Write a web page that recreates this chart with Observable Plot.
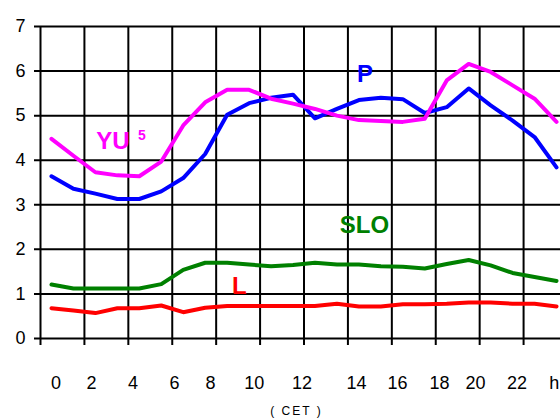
<!DOCTYPE html>
<html><head><meta charset="utf-8">
<script src="https://cdn.jsdelivr.net/npm/d3@7"></script>
<script src="https://cdn.jsdelivr.net/npm/@observablehq/plot@0.6"></script>
<style>
body{margin:0;overflow:hidden;background:#fff}
.cet text{letter-spacing:2px}
</style>
</head><body><div id="chart"></div>
<script>
const hours = [0,1,2,3,4,5,6,7,8,9,10,11,12,13,14,15,16,17,18,19,20,21,22,23];
const P   = [3.64,3.36,3.25,3.13,3.13,3.30,3.60,4.14,5.02,5.28,5.40,5.47,4.94,5.15,5.35,5.40,5.37,5.06,5.19,5.61,5.23,4.89,4.52,3.84];
const YU  = [4.48,4.10,3.73,3.66,3.64,3.97,4.78,5.30,5.58,5.58,5.38,5.27,5.15,5.00,4.90,4.88,4.86,4.93,5.79,6.16,5.98,5.68,5.38,4.86];
const SLO = [1.21,1.12,1.12,1.12,1.12,1.22,1.54,1.70,1.70,1.66,1.62,1.65,1.70,1.66,1.66,1.62,1.61,1.57,1.67,1.76,1.64,1.47,1.38,1.29];
const L   = [0.68,0.63,0.57,0.68,0.68,0.74,0.59,0.69,0.73,0.73,0.73,0.73,0.73,0.78,0.72,0.72,0.77,0.77,0.78,0.81,0.81,0.78,0.78,0.72];
const seriesNames = ["P","YU","SLO","L"];
const seriesColors = ["#0000ff","#ff00ff","#008000","#ff0000"];
const yTicks = [0,1,2,3,4,5,6,7];
const gridHours = [-0.5,1.5,3.5,5.5,7.5,9.5,11.5,13.5,15.5,17.5,19.5,21.5,23.5];
const xTickLabels = ["0","2","4","6","8","10","12","14","16","18","20","22","h"];
const xTickHours = [0.21,1.82,3.71,5.60,7.24,9.24,11.41,13.89,15.76,17.67,19.31,21.20,22.9];
const labels = [
  {text:"YU", x:2.80, y:4.42, color:"#ff00ff", size:24},
  {text:"5",  x:4.12, y:4.55, color:"#ff00ff", size:14},
  {text:"P",  x:14.28, y:5.92, color:"#0000ff", size:24},
  {text:"SLO",x:14.25, y:2.55, color:"#008000", size:24},
  {text:"L",  x:8.56, y:1.16, color:"#ff0000", size:24}
];

const all = {P, YU, SLO, L};
const data = seriesNames.flatMap(s => hours.map((h,i) => ({hour:h, series:s, value:all[s][i]})));
const labelMap = new Map(xTickHours.map((h,i)=>[h, xTickLabels[i]]));

const chart = Plot.plot({
  width:560, height:420,
  marginLeft:40, marginRight:0, marginTop:26, marginBottom:82,
  style:{fontFamily:"'Liberation Sans', Arial, sans-serif", background:"white", color:"black"},
  x:{domain:[-0.5,23.5], range:[40,567]},
  y:{domain:[0,7]},
  color:{domain:seriesNames, range:seriesColors},
  marks:[
    Plot.ruleY(yTicks,{stroke:"black",strokeWidth:2,insetLeft:-6}),
    Plot.ruleX(gridHours,{stroke:"black",strokeWidth:2,insetBottom:-7}),
    Plot.axisY(yTicks,{tickSize:0,tickPadding:15,fontSize:18,label:null}),
    Plot.axisX(xTickHours,{tickSize:0,tickPadding:38,fontSize:18,label:null,tickFormat:d=>labelMap.get(d)}),
    Plot.lineY(data,{x:"hour",y:"value",z:"series",stroke:"series",strokeWidth:4,strokeLinejoin:"round"}),
    Plot.text(labels,{x:"x",y:"y",text:"text",fill:"color",fontSize:"size",fontWeight:"bold"}),
    Plot.text(["( CET )"],{frameAnchor:"bottom",dy:76,dx:-4,fontSize:12,className:"cet"})
  ]
});
document.getElementById("chart").append(chart);
</script>
</body></html>
